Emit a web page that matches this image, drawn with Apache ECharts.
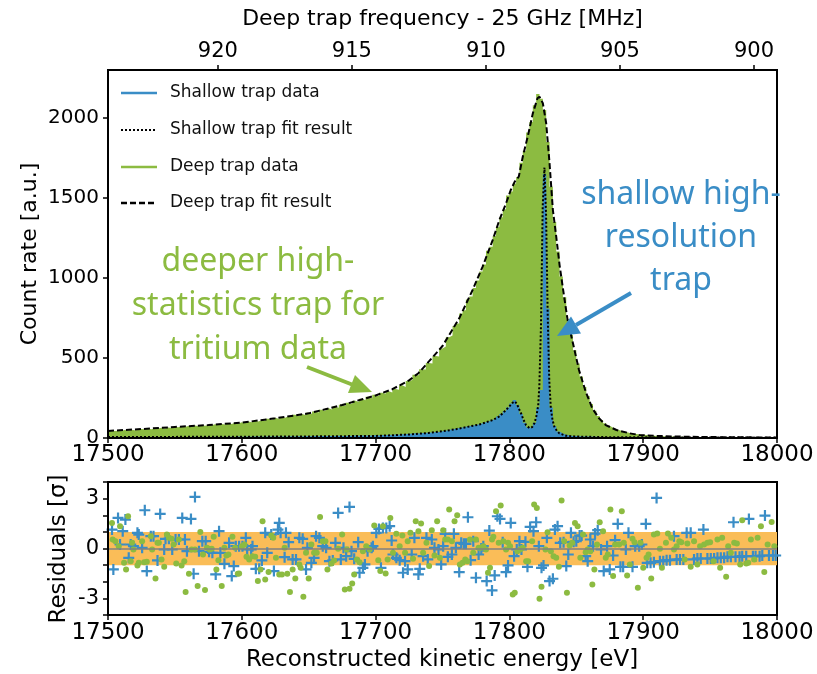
<!DOCTYPE html>
<html><head><meta charset="utf-8">
<script src="https://cdn.jsdelivr.net/npm/echarts@6/dist/echarts.min.js"></script>
<style>html,body{margin:0;padding:0;background:#fff}#c{width:817px;height:674px}</style>
</head><body><div id="c"></div>
<script>
// ---- data ----
const binStart = 17500, binWidth = 2.5;
const energyTicks = [17500, 17600, 17700, 17800, 17900, 18000];
const countTicks = [0, 500, 1000, 1500, 2000];
const freqTicks = [900, 905, 910, 915, 920];
const resTicks = [-3, 0, 3];
const resMinorTicks = [-4, -3, -2, -1, 0, 1, 2, 3, 4];

const deepCounts = [
48,44,46,45,50,47,52,49,50,56, 54,58,55,61,59,64,60,66,63,70,
67,72,69,75,71,78,73,80,76,82, 79,86,81,88,84,92,87,95,90,99,
94,103,98,108,103,113,108,121,114,126, 120,132,126,137,131,145,138,150,143,158,
150,166,160,177,170,186,178,196,189,208, 202,221,213,233,225,245,236,258,248,270,
262,283,276,292,285,306,302,330,318,356, 362,396,392,430,428,468,466,512,510,560,
572,630,640,700,716,778,798,865,885,938, 985,1040,1085,1170,1195,1262,1320,1380,1430,1515,
1540,1590,1630,1720,1795,1910,1975,2080,2150,2120, 2050,1850,1570,1350,1165,1010,880,740,645,548,
465,385,318,262,212,170,138,112,92,76, 64,55,48,42,37,32,28,25,22,20,
18,16,15,13,13,11,10,10,9,9, 8,8,7,7,7,6,6,6,5,5,
5,5,5,4,4,4,4,4,4,3, 3,3,3,3,3,3,3,3,3,3];

const shallowCounts = [
6,5,7,6,5,7,6,6,5,7, 6,7,6,5,7,6,7,6,7,6,
7,6,7,7,6,8,7,6,8,7, 7,8,7,8,7,8,8,7,9,8,
8,9,8,9,9,8,10,9,10,9, 9,10,10,9,11,10,11,10,12,11,
11,12,11,12,13,12,13,12,14,13, 13,14,13,15,14,15,16,14,16,17,
16,18,17,20,19,22,21,24,23,27, 26,29,28,32,31,35,34,38,37,42,
45,50,54,58,62,66,70,74,78,82, 86,92,98,104,112,122,135,150,168,190,
215,238,205,150,95,66,62,95,190,300, 1650,810,190,75,40,28,20,16,13,12,
11,10,9,9,8,8,7,7,7,6, 6,6,5,6,5,5,5,4,5,4,
4,5,4,4,4,3,4,4,3,4, 3,3,4,3,3,3,3,3,2,3,
3,2,3,2,2,3,2,2,2,2, 2,2,2,2,2,2,2,2,2,2];

const deepFit = [[17500,44],[17525,56],[17550,69],[17575,81],[17600,96],[17625,123],[17650,154],[17675,206],
[17700,266],[17712.5,305],[17725,360],[17732,405],[17740,480],[17750,575],[17755,644],[17762.5,748],[17772.5,925],
[17780,1071],[17787.5,1237],[17792.5,1362],[17797.5,1467],[17801,1550],[17804,1602],[17807,1633],[17810,1758],
[17814,1894],[17817.5,2029],[17821,2123],[17822.5,2133],[17825,2092],[17827.5,1967],[17830,1717],[17832.5,1425],
[17835,1258],[17837.5,1081],[17840,935],[17843.5,737],[17847.5,592],[17852,425],[17857,290],[17862,185],
[17867,123],[17872,81],[17880,50],[17890,29],[17897,19],[17910,13],[17925,9],[17950,6],[17975,4],[18000,3]];

const shallowFit = [[17500,6],[17550,7],[17600,8],[17650,10],[17700,13],[17725,22],[17740,32],[17750,42],
[17760,55],[17770,72],[17777.5,84],[17787.5,112],[17792.5,135],[17797.5,175],[17800,198],[17802.5,221],
[17804,228],[17805.5,215],[17807,185],[17808.7,154],[17810.5,115],[17812.4,81],[17815,62],[17817,68],
[17818.7,92],[17820,130],[17821.5,200],[17822.4,330],[17823.6,700],[17824.9,1450],[17826.2,1690],
[17827.4,1400],[17828.6,780],[17829.8,360],[17831,180],[17832.3,110],[17833.6,70],[17835.5,45],
[17837.3,29],[17842.3,14],[17850,9],[17875,5],[17900,4],[17950,3],[18000,2]];

const shallowRes = [[17503,1.14],[17504,-1.26],[17507.5,1.84],[17509,0.24],[17511,1.04],[17513,1.74],[17515.5,-0.56],
[17517,0.24],[17519,0.14],[17522,0.94],[17523,0.84],[17525.5,0.04],[17527.5,2.30],[17529,-1.36],[17532,0.74],
[17534,0.74],[17537,-0.72],[17539,2.08],[17542,-0.06],[17543,0.58],[17545.5,0.58],[17548,-0.06],[17550.5,0.54],
[17553,0.54],[17555.5,1.84],[17557.5,0.54],[17559,-0.16],[17562,1.78],[17564,-1.52],[17565,3.10],[17568,-0.16],
[17570.5,0.44],[17573,0.44],[17575.5,-0.20],[17578,-0.26],[17580.5,-1.56],[17583,1.04],[17584,-0.26],[17587,-0.92],
[17590.5,0.34],[17592.5,-1.66],[17594,-1.06],[17595.5,0.14],[17598,0.14],[17600.5,0.14],[17603,0.64],[17604,-0.06],
[17607,-0.06],[17608,0.14],[17610.5,-1.22],[17613,-1.22],[17615,-0.72],[17617.5,0.94],[17619,-0.26],[17622,0.84],
[17624,-1.36],[17627,1.14],[17628,1.54],[17629,0.94],[17632,-0.52],[17633,0.94],[17635,0.38],[17638,-0.66],
[17640.5,-0.66],[17643,0.64],[17645.5,0.58],[17648,-1.26],[17649,0.04],[17652,-0.86],[17654,-0.56],[17655.5,0.74],
[17658,0.64],[17660.5,0.14],[17663,0.04],[17665.5,-0.76],[17668,-0.72],[17670,0.34],[17672,2.14],[17674,-0.66],
[17676,0.04],[17678,-0.46],[17680.5,2.50],[17682,-0.16],[17684,-0.62],[17687,0.38],[17688,-1.46],[17690.5,-1.16],
[17692,-0.96],[17694,-0.16],[17697,0.04],[17698,0.14],[17700.5,0.94],[17702.5,1.18],[17704,-1.16],[17705.5,1.24],
[17708,1.24],[17710.5,1.34],[17712,0.48],[17713,-0.36],[17715.5,-0.56],[17718,-0.70],[17720.5,-1.46],[17722,-0.76],
[17724,-1.26],[17727,-0.36],[17729,0.64],[17732,-1.56],[17733,-1.22],[17735.5,-0.46],[17738,0.64],[17739,-0.66],
[17742,0.54],[17744,0.04],[17747,-0.06],[17750.5,0.14],
[17749,-0.96],[17752,0.88],[17754,-0.50],[17757,-0.36],[17758.5,0.88],[17760,0.04],[17762.5,-1.42],[17764,0.34],
[17766,0.28],[17767.5,0.28],[17769,1.88],[17771,-0.70],[17773,0.44],[17775,-1.76],[17777,-0.36],[17779,0.00],
[17780.5,0.14],[17783,-1.96],[17785,1.08],[17787,-2.52],[17789,-1.62],[17791,1.94],[17793,1.78],[17795,0.38],
[17797.5,-1.42],[17799,-1.02],[17801,1.54],[17803.5,-0.46],[17805.5,-0.06],[17807.5,0.44],[17809,-0.06],[17812,0.40],
[17813.5,-1.10],[17815.5,1.30],[17818,1.04],[17820,1.58],[17822,0.14],[17824,-1.16],[17825.5,-1.02],[17828,0.64],
[17830,-1.96],[17832.5,-1.82],[17834,1.14],[17836,1.34],[17838,0.34],[17840.5,0.38],[17842.5,-1.06],[17844,-0.36],
[17846,0.94],[17848,0.40],[17850,0.44],[17852.5,0.78],[17854,0.78],[17857,-0.46],[17858.5,-0.76],[17860.5,0.54],
[17862.5,0.14],[17864,0.90],[17866,1.10],[17868.5,-0.06],[17870.5,-1.36],[17873,0.14],[17875,-1.26],[17877.5,-0.42],
[17879,0.50],[17881,1.48],[17883,-1.10],[17885,-1.10],[17887,-0.06],[17889,0.94],[17892,-1.10],[17894,0.14],
[17897,0.14],[17899,0.24],[17902,1.48],[17903,-0.86],[17905.5,-0.86],[17908,-0.82],[17910,3.04],[17912.5,-0.76],
[17915,-0.76],[17917.5,-0.70],[17920,-0.70],[17923,0.74],[17925,-0.66],[17927.5,-0.66],[17930,-0.66],[17932.5,0.94],
[17935.5,0.94],[17938,-0.66],[17940.5,-0.60],[17943,-0.60],[17945,1.14],[17948,-0.60],[17950.5,-0.60],[17953,-0.60],
[17955.5,-0.56],[17958,-0.56],[17960.5,-0.56],[17963,-0.50],[17965.5,-0.50],[17967.5,1.58],[17969,-0.50],[17972,-0.50],
[17974,-0.46],[17977,-0.46],[17979,1.78],[17982,-0.46],[17984,-0.46],[17987,-0.46],[17989,-0.42],[17991,1.98],
[17994,-0.42],[17997,-0.42],[17999,-0.42]];

const deepRes = [[17503,1.54],[17503.5,0.54],[17505.5,0.44],[17508,0.14],[17509,1.34],[17512,-0.86],[17513.5,-1.26],
[17515,1.94],[17517,-0.76],[17518,0.34],[17519,-0.06],[17522,-1.02],[17523,-0.86],[17525.5,0.44],[17527,-0.82],
[17529,-0.80],[17532,0.74],[17533,-0.06],[17535.5,-1.80],[17537,0.34],[17538,0.34],[17540,-0.66],[17542,-1.10],
[17544,0.84],[17545.5,0.64],[17547.5,0.58],[17549,0.24],[17551,-0.90],[17553,0.54],[17555,-1.02],[17557,-0.76],
[17558,-2.62],[17560.5,-1.52],[17562.5,-0.06],[17565,-0.06],[17567,-2.26],[17569,1.00],[17571,-0.36],[17572.5,-2.50],
[17574,0.04],[17576,-0.06],[17577.5,-0.02],[17579,0.70],[17581,-1.26],[17582.5,-0.70],[17585,-2.26],[17587,0.04],
[17588.5,-0.42],[17590,-0.36],[17593,0.70],[17595,0.04],[17597,-1.52],[17598,-1.50],[17600,0.14],[17602,0.24],
[17603.5,-0.50],[17605.5,-0.66],[17608,-0.46],[17610,-0.50],[17612,-1.96],[17614,-1.26],[17615.5,1.64],[17617.5,-1.86],
[17620,-1.42],[17622,0.78],[17623.5,0.64],[17625.5,-0.56],[17628,-1.56],[17630,-1.56],[17632,0.04],[17634,-1.52],
[17636,-2.62],[17638,-1.26],[17640,-1.80],[17643,-0.96],[17644,-1.16],[17646,-2.90],[17648,-0.26],[17650,-1.80],
[17652,0.24],[17654,-0.26],[17656,-0.26],[17658.5,1.90],[17660.5,0.44],[17662.5,0.44],[17664,-1.26],[17667,-0.90],
[17669,-0.72],[17672,-0.02],[17675,0.84],[17677,-2.46],[17678.5,-0.06],[17680.5,-2.42],[17682.5,-2.10],[17684,-1.56],
[17686,-0.66],[17688,-0.82],[17690.5,-0.16],[17693,0.14],[17695.5,-0.06],[17699,1.38],[17702,-0.70],[17703.5,-1.36],
[17705.5,1.34],[17707.5,-1.50],[17709,-0.66],[17711,1.84],[17713,-0.26],[17715.5,0.88],[17718,0.14],[17720,0.78],
[17722,-0.26],[17724,0.44],[17726,0.94],[17728,-0.62],[17730,1.64],[17732,1.04],[17734,1.50],[17735.5,-0.26],
[17738,0.34],[17740,-1.06],[17742,1.10],[17744,-0.42],[17746,1.64],[17748,-0.56],[17750.5,1.10],
[17752,0.54],[17754,0.54],[17755,2.34],[17757,0.44],[17759,1.64],[17761,2.00],[17763,-0.96],[17765,-0.86],
[17767,-0.66],[17768.5,-0.76],[17770.5,0.54],[17773,-0.26],[17775,0.54],[17777,0.04],[17778.5,0.04],[17780.5,0.14],
[17782.5,-0.06],[17784,-1.46],[17785.5,-1.16],[17787,0.54],[17788,0.70],[17790,2.24],[17792,0.34],[17793.5,2.58],
[17795.5,0.44],[17797.5,-0.06],[17799,0.34],[17800.5,0.14],[17802.5,-2.76],[17804,-2.66],[17806,-0.16],[17808,-0.06],
[17810,0.04],[17812.5,-0.76],[17814,-0.76],[17817,0.44],[17818.5,2.64],[17820.5,2.44],[17822.5,-3.02],[17824,-2.30],
[17827,-0.06],[17828.5,0.98],[17831,-0.16],[17833,-0.46],[17835,-0.56],[17837,-1.10],[17839,2.88],[17841,0.44],
[17843,-2.66],[17845,0.18],[17847,0.34],[17849,1.54],[17851,1.34],[17853,-0.56],[17855,0.84],[17857,-0.22],
[17858.5,-0.06],[17860.5,-0.16],[17862,-2.16],[17863.5,-1.26],[17865.5,0.24],[17867.5,1.58],[17870,1.04],[17872,-0.56],
[17873.5,-0.36],[17875.5,2.34],[17877.5,-1.66],[17879,0.24],[17882,0.24],[17884,2.24],[17885.5,0.34],[17888,-1.62],
[17890,-0.96],[17892,0.58],[17893.5,0.38],[17896,-2.36],[17898,0.34],[17900,-1.16],[17902.5,-0.56],[17904,-0.36],
[17906,-1.80],[17908,0.84],[17910.5,0.90],[17912.5,-0.02],[17914,-1.16],[17917,0.34],[17918.5,0.90],[17921,0.64],
[17923,-0.06],[17925,0.14],[17927,0.44],[17928.5,0.38],[17931,-0.66],[17933,0.30],[17935.5,-1.10],[17938,0.44],
[17940.5,-0.96],[17942.5,0.14],[17945.5,0.24],[17948,0.34],[17950,0.38],[17952.5,-0.76],[17955.5,0.54],[17957.5,-1.16],
[17959,0.64],[17962,-1.70],[17963.5,0.14],[17965.5,-0.26],[17968,0.34],[17970,0.30],[17972.5,-0.96],[17974,1.70],
[17977,-0.90],[17978.5,-0.86],[17980.5,0.54],[17983,-0.66],[17985.5,0.64],[17988,1.34],[17990.5,-1.42],[17993,0.24],
[17996,1.60],[17998,0.14]];

const legendLabels = ['Shallow trap data', 'Shallow trap fit result', 'Deep trap data', 'Deep trap fit result'];

// ---- styles ----
const GREEN = '#8cbb41', BLUE = '#3a8dc6', BAND = '#fabd58';
const FONT = 'DejaVu Sans';
const plain = (v) => String(v);

function histSteps(counts) {
  const pts = counts.map((v, i) => [binStart + i * binWidth, v]);
  pts.push([binStart + counts.length * binWidth, counts[counts.length - 1]]);
  return pts;
}

const axisLineS = { show: true, onZero: false, lineStyle: { color: '#000', width: 2 } };
const tickS = (vals) => ({ show: true, length: 5, lineStyle: { color: '#000', width: 1.5 }, customValues: vals });

const chart = echarts.init(document.getElementById('c'), null, { renderer: 'canvas' });
const option = {
  animation: false,
  backgroundColor: '#fff',
  textStyle: { fontFamily: FONT },
  grid: [
    { left: 108, top: 70, width: 669, height: 368, show: true, borderColor: '#000', borderWidth: 2, backgroundColor: 'transparent' },
    { left: 108, top: 482, width: 669, height: 133, show: true, borderColor: '#000', borderWidth: 2, backgroundColor: 'transparent' }
  ],
  xAxis: [
    { type: 'value', gridIndex: 0, min: 17500, max: 18000, position: 'bottom', z: 10,
      axisLine: axisLineS, axisTick: tickS(energyTicks), splitLine: { show: false },
      axisLabel: { customValues: energyTicks, formatter: plain, fontSize: 23, color: '#000', margin: 6, fontFamily: FONT } },
    { type: 'value', gridIndex: 0, min: 899.14, max: 924.1, inverse: true, position: 'top', z: 10,
      axisLine: axisLineS, axisTick: tickS(freqTicks), splitLine: { show: false },
      axisLabel: { customValues: freqTicks, formatter: plain, fontSize: 21, color: '#000', margin: 8, fontFamily: FONT },
      name: 'Deep trap frequency - 25 GHz [MHz]', nameLocation: 'middle', nameGap: 40,
      nameTextStyle: { fontSize: 22, color: '#000', fontFamily: FONT } },
    { type: 'value', gridIndex: 1, min: 17500, max: 18000, position: 'bottom', z: 10,
      axisLine: axisLineS, axisTick: tickS(energyTicks), splitLine: { show: false },
      axisLabel: { customValues: energyTicks, formatter: plain, fontSize: 23, color: '#000', margin: 7, fontFamily: FONT } }
  ],
  yAxis: [
    { type: 'value', gridIndex: 0, min: 0, max: 2300, z: 10,
      axisLine: axisLineS, axisTick: tickS(countTicks), splitLine: { show: false },
      axisLabel: { customValues: countTicks, formatter: plain, fontSize: 20, color: '#000', margin: 9, fontFamily: FONT } },
    { type: 'value', gridIndex: 1, min: -4, max: 4, z: 10,
      axisLine: axisLineS, axisTick: tickS(resMinorTicks), splitLine: { show: false },
      axisLabel: { customValues: resTicks, formatter: plain, fontSize: 21, color: '#000', margin: 9, fontFamily: FONT } }
  ],
  series: [
    { name: legendLabels[2], type: 'line', xAxisIndex: 0, yAxisIndex: 0, step: 'end', symbol: 'none',
      data: histSteps(deepCounts), lineStyle: { width: 0 }, areaStyle: { color: GREEN, opacity: 1 }, z: 2 },
    { name: legendLabels[0], type: 'line', xAxisIndex: 0, yAxisIndex: 0, step: 'end', symbol: 'none',
      data: histSteps(shallowCounts), lineStyle: { width: 0 }, areaStyle: { color: BLUE, opacity: 1 }, z: 3 },
    { name: legendLabels[3], type: 'line', xAxisIndex: 0, yAxisIndex: 0, symbol: 'none', data: deepFit,
      lineStyle: { color: '#000', width: 2, type: [6, 3] }, z: 4 },
    { name: legendLabels[1], type: 'line', xAxisIndex: 0, yAxisIndex: 0, symbol: 'none', data: shallowFit,
      lineStyle: { color: '#000', width: 2, type: [2, 2] }, z: 5 },
    { type: 'line', xAxisIndex: 2, yAxisIndex: 1, data: [], symbol: 'none', z: 1,
      markArea: { silent: true, itemStyle: { color: BAND, opacity: 1 },
        data: [[{ xAxis: 17500, yAxis: -1 }, { xAxis: 18000, yAxis: 1 }]] },
      markLine: { silent: true, symbol: 'none', label: { show: false },
        lineStyle: { color: '#808080', width: 1.5, type: 'solid' }, data: [{ yAxis: 0 }] } },
    { type: 'scatter', xAxisIndex: 2, yAxisIndex: 1, data: shallowRes, z: 3,
      symbol: 'path://M4,0H6V4H10V6H6V10H4V6H0V4H4Z', symbolSize: 11, itemStyle: { color: BLUE, opacity: 1 } },
    { type: 'scatter', xAxisIndex: 2, yAxisIndex: 1, data: deepRes, z: 4,
      symbol: 'circle', symbolSize: 6, itemStyle: { color: GREEN, opacity: 1 } }
  ],
  graphic: [
    // axis titles
    { type: 'text', style: { text: 'Count rate [a.u.]', x: 0, y: 0, align: 'center', verticalAlign: 'middle',
        font: '22px "DejaVu Sans"', fill: '#000' }, x: 30, y: 254, rotation: Math.PI / 2 },
    { type: 'text', style: { text: 'Residuals [σ]', x: 0, y: 0, align: 'center', verticalAlign: 'middle',
        font: '23px "DejaVu Sans"', fill: '#000' }, x: 59, y: 549, rotation: Math.PI / 2 },
    { type: 'text', style: { text: 'Reconstructed kinetic energy [eV]', x: 442, y: 660, align: 'center', verticalAlign: 'middle',
        font: '23px "DejaVu Sans"', fill: '#000' } },
    // legend
    { type: 'line', shape: { x1: 121, y1: 93, x2: 157, y2: 93 }, style: { stroke: BLUE, lineWidth: 2.5 } },
    { type: 'line', shape: { x1: 121, y1: 130, x2: 157, y2: 130 }, style: { stroke: '#000', lineWidth: 2, lineDash: [2, 2] } },
    { type: 'line', shape: { x1: 121, y1: 167, x2: 157, y2: 167 }, style: { stroke: GREEN, lineWidth: 2.5 } },
    { type: 'line', shape: { x1: 121, y1: 203, x2: 157, y2: 203 }, style: { stroke: '#000', lineWidth: 2.5, lineDash: [6, 3] } },
    { type: 'text', style: { text: legendLabels[0], x: 170, y: 93, verticalAlign: 'middle', font: '17px "DejaVu Sans"', fill: '#111' } },
    { type: 'text', style: { text: legendLabels[1], x: 170, y: 130, verticalAlign: 'middle', font: '17px "DejaVu Sans"', fill: '#111' } },
    { type: 'text', style: { text: legendLabels[2], x: 170, y: 167, verticalAlign: 'middle', font: '17px "DejaVu Sans"', fill: '#111' } },
    { type: 'text', style: { text: legendLabels[3], x: 170, y: 203, verticalAlign: 'middle', font: '17px "DejaVu Sans"', fill: '#111' } },
    // annotations
    { type: 'text', z: 20, style: { text: 'deeper high-\nstatistics trap for\ntritium data', x: 258, y: 306,
        align: 'center', verticalAlign: 'middle', font: '32px "Noto Sans"', lineHeight: 44, fill: GREEN } },
    { type: 'text', z: 20, style: { text: 'shallow high-\nresolution\ntrap', x: 681, y: 238,
        align: 'center', verticalAlign: 'middle', font: '32px "Noto Sans"', lineHeight: 43, fill: BLUE } },
    { type: 'line', z: 20, shape: { x1: 307, y1: 367, x2: 352, y2: 384.5 }, style: { stroke: GREEN, lineWidth: 4 } },
    { type: 'polygon', z: 20, shape: { points: [[372, 392], [348, 393], [355, 375]] }, style: { fill: GREEN } },
    { type: 'line', z: 20, shape: { x1: 631, y1: 293, x2: 576, y2: 325 }, style: { stroke: BLUE, lineWidth: 4 } },
    { type: 'polygon', z: 20, shape: { points: [[557, 336], [571, 316.5], [581, 333.5]] }, style: { fill: BLUE } }
  ]
};
chart.setOption(option);
</script></body></html>
